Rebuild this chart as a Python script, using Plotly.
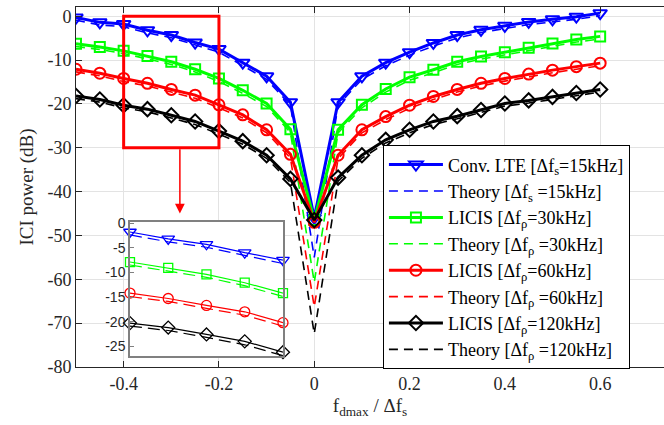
import plotly.graph_objects as go

# ---------------- data ----------------
x_vals = [-0.5, -0.45, -0.4, -0.35, -0.3, -0.25, -0.2, -0.15, -0.1, -0.05, 0.0,
          0.05, 0.1, 0.15, 0.2, 0.25, 0.3, 0.35, 0.4, 0.45, 0.5, 0.55, 0.6]

lte_15 = [-0.3, -1.4, -1.8, -3.2, -4.3, -6.0, -7.5, -10.6, -13.7, -19.6, -46.0,
          -19.6, -13.7, -10.6, -8.2, -6.1, -4.3, -3.1, -2.2, -1.3, -0.7, -0.1, 0.7]
theory_15 = [-0.9, -2.0, -2.4, -3.8, -4.9, -6.6, -8.2, -11.3, -14.4, -20.3, -55.0,
             -20.3, -14.4, -11.3, -8.9, -6.8, -5.0, -3.7, -2.8, -1.9, -1.3, -0.7, 0.1]

licis_30 = [-6.3, -7.0, -7.9, -9.1, -10.4, -12.1, -14.2, -16.9, -19.9, -25.8, -46.5,
            -25.9, -20.2, -16.6, -13.9, -12.2, -10.4, -9.2, -8.2, -7.2, -6.2, -5.3, -4.6]
theory_30 = [-6.9, -7.6, -8.5, -9.7, -11.0, -12.7, -14.9, -17.6, -20.6, -26.5, -60.7,
             -26.6, -20.9, -17.3, -14.6, -12.9, -11.0, -9.8, -8.8, -7.8, -6.8, -5.9, -5.2]

licis_60 = [-12.1, -13.0, -14.2, -15.3, -16.7, -18.0, -20.2, -22.5, -25.9, -31.5, -47.0,
            -31.7, -25.9, -22.9, -20.3, -18.3, -16.7, -15.3, -14.2, -13.2, -12.3, -11.5, -10.7]
theory_60 = [-12.7, -13.6, -14.9, -15.9, -17.3, -18.7, -20.9, -23.2, -26.6, -32.3, -66.3,
             -32.5, -26.6, -23.6, -21.0, -19.0, -17.3, -15.9, -14.8, -13.8, -12.9, -12.1, -11.3]

licis_120 = [-18.2, -19.0, -20.3, -21.2, -22.6, -24.0, -26.2, -28.5, -31.7, -37.1, -46.5,
             -36.8, -31.7, -28.2, -25.9, -24.0, -22.8, -21.4, -19.9, -19.2, -18.4, -17.5, -16.7]
theory_120 = [-18.8, -19.6, -20.9, -21.8, -23.2, -24.7, -26.9, -29.2, -32.4, -37.9, -72.4,
              -37.6, -32.4, -28.9, -26.6, -24.7, -23.4, -22.0, -20.5, -19.8, -19.0, -18.1, -17.3]

main_xticks = [-0.4, -0.2, 0, 0.2, 0.4, 0.6]
main_xticktext = ["-0.4", "-0.2", "0", "0.2", "0.4", "0.6"]
main_yticks = [0, -10, -20, -30, -40, -50, -60, -70, -80]
main_yticktext = ["0", "-10", "-20", "-30", "-40", "-50", "-60", "-70", "-80"]
inset_yticks = [0, -5, -10, -15, -20, -25]
inset_yticktext = ["0", "-5", "-10", "-15", "-20", "-25"]

zoom_x = [-0.4, -0.2]
zoom_y = [-30, 0]
inset_yrange = [-27, 0.3]

names_sim = ["Conv. LTE [Δf<sub>s</sub>=15kHz]",
             "LICIS [Δf<sub>ρ</sub>=30kHz]",
             "LICIS [Δf<sub>ρ</sub>=60kHz]",
             "LICIS [Δf<sub>ρ</sub>=120kHz]"]
names_th = ["Theory [Δf<sub>s</sub> =15kHz]",
            "Theory [Δf<sub>ρ</sub> =30kHz]",
            "Theory [Δf<sub>ρ</sub> =60kHz]",
            "Theory [Δf<sub>ρ</sub> =120kHz]"]

# ---------------- styles ----------------
colors = ["#0000ff", "#00ff00", "#ff0000", "#000000"]
symbols = ["triangle-down-open", "square-open", "circle-open", "diamond-open"]
msizes = [12, 10, 11, 11]
sims = [lte_15, licis_30, licis_60, licis_120]
ths = [theory_15, theory_30, theory_60, theory_120]

SERIF = "Liberation Serif"
SANS = "Liberation Sans"
AX = "#262626"

fig = go.Figure()

for i in range(4):
    fig.add_trace(go.Scatter(
        x=x_vals, y=sims[i], mode="lines+markers", name=names_sim[i],
        line=dict(color=colors[i], width=3),
        marker=dict(symbol=symbols[i], size=msizes[i], color=colors[i],
                    line=dict(width=2, color=colors[i])),
        xaxis="x", yaxis="y"))
    fig.add_trace(go.Scatter(
        x=x_vals, y=ths[i], mode="lines", name=names_th[i],
        line=dict(color=colors[i], width=1.6, dash="9px,6px"),
        xaxis="x", yaxis="y"))

# inset (zoomed region)
i0 = x_vals.index(zoom_x[0])
i1 = x_vals.index(zoom_x[1]) + 1
for i in range(4):
    fig.add_trace(go.Scatter(
        x=x_vals[i0:i1], y=sims[i][i0:i1], mode="lines+markers", showlegend=False,
        line=dict(color=colors[i], width=1.2),
        marker=dict(symbol=symbols[i], size=msizes[i] - 1, color=colors[i],
                    line=dict(width=1.3, color=colors[i])),
        cliponaxis=False, xaxis="x2", yaxis="y2"))
    fig.add_trace(go.Scatter(
        x=x_vals[i0:i1], y=ths[i][i0:i1], mode="lines", showlegend=False,
        line=dict(color=colors[i], width=1.2, dash="12px,6px"),
        cliponaxis=False, xaxis="x2", yaxis="y2"))

fig.update_layout(
    width=664, height=425,
    margin=dict(l=76, r=0, t=3, b=58),
    paper_bgcolor="white", plot_bgcolor="white",
    font=dict(family=SERIF, size=17, color=AX),
    showlegend=True,
    legend=dict(x=0.522, y=0.6155, xanchor="left", yanchor="top",
                bgcolor="white", bordercolor="#000000", borderwidth=1,
                font=dict(family=SERIF, size=18, color="#000000"),
                itemwidth=54, tracegroupgap=0),
    xaxis=dict(range=[-0.5, 0.734], tickvals=main_xticks, ticktext=main_xticktext,
               showgrid=True, gridcolor="#e3e3e3", gridwidth=1, zeroline=False,
               showline=True, linecolor=AX, linewidth=1, mirror="ticks",
               ticks="inside", ticklen=6, tickcolor=AX,
               tickfont=dict(family=SERIF, size=18, color=AX),
               title=dict(text="f<sub>dmax</sub> / Δf<sub>s</sub>",
                          font=dict(family=SERIF, size=19, color=AX), standoff=6)),
    yaxis=dict(range=[-80, 2.1], tickvals=main_yticks, ticktext=main_yticktext,
               showgrid=True, gridcolor="#e3e3e3", gridwidth=1, zeroline=False,
               showline=True, linecolor=AX, linewidth=1, mirror=False,
               ticks="inside", ticklen=6, tickcolor=AX,
               tickfont=dict(family=SERIF, size=18, color=AX),
               title=dict(text="ICI power (dB)",
                          font=dict(family=SERIF, size=19, color=AX), standoff=8)),
    xaxis2=dict(domain=[0.0918, 0.352], anchor="y2", range=zoom_x,
                showgrid=False, zeroline=False, showticklabels=False,
                showline=True, linecolor="#808080", linewidth=1.5, mirror=True,
                ticks=""),
    yaxis2=dict(domain=[0.0302, 0.4038], anchor="x2", range=inset_yrange,
                tickvals=inset_yticks, ticktext=inset_yticktext,
                showgrid=False, zeroline=False,
                showline=True, linecolor="#808080", linewidth=1.5, mirror=True,
                ticks="inside", ticklen=4, tickcolor="#808080",
                tickfont=dict(family=SANS, size=14, color=AX)),
    shapes=[
        dict(type="rect", xref="x2", yref="y2", x0=zoom_x[0], x1=zoom_x[1],
             y0=inset_yrange[0], y1=inset_yrange[1], layer="below",
             fillcolor="white", line=dict(width=0)),
        dict(type="rect", xref="x", yref="y", x0=zoom_x[0], x1=zoom_x[1],
             y0=zoom_y[0], y1=zoom_y[1], layer="above",
             line=dict(color="#ff0000", width=3)),
    ],
    annotations=[
        dict(x=-0.282, y=-45.0, ax=-0.282, ay=zoom_y[0], xref="x", yref="y",
             axref="x", ayref="y", text="", showarrow=True, arrowhead=2,
             arrowsize=1.3, arrowwidth=1.5, arrowcolor="#ff0000"),
    ],
)

fig.write_html("out.html", config={"displayModeBar": False},
               post_script="document.body.style.margin='0';document.body.style.padding='0';")
